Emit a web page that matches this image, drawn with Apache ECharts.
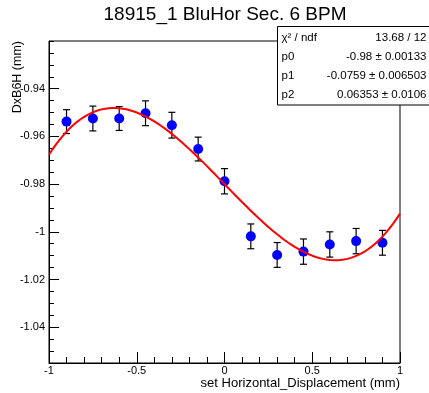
<!DOCTYPE html>
<html>
<head>
<meta charset="utf-8">
<script src="https://cdn.jsdelivr.net/npm/echarts@6/dist/echarts.min.js"></script>
<style>
  html, body { margin: 0; padding: 0; background: #fff; }
  #c { width: 429px; height: 393px; }
</style>
</head>
<body>
<div id="c"></div>
<script>
// Measured beam position vs. set horizontal displacement
const xValues = [-0.9, -0.75, -0.6, -0.45, -0.3, -0.15, 0, 0.15, 0.3, 0.45, 0.6, 0.75, 0.9];
const yValues = [-0.9538, -0.9525, -0.9525, -0.9503, -0.9553, -0.9653, -0.9788,
                 -1.0019, -1.0097, -1.0083, -1.0053, -1.0039, -1.0046];
const yErrors = [0.0050, 0.0052, 0.0050, 0.0052, 0.0054, 0.0050, 0.0053,
                 0.0052, 0.0052, 0.0053, 0.0053, 0.0053, 0.0052];

// Fit result: f(x) = p0 + p1*x + p2*x^3
const fitNames = ['p0', 'p1', 'p2'];
const fitParams = [-0.98, -0.0759, 0.06353];
const fitErrors = ['0.00133', '0.006503', '0.0106'];
const chi2Label = 'χ² / ndf';
const chi2Value = '13.68 / 12';

// Axis ranges
const xRange = [-1, 1];
const yRange = [-1.055, -0.92];

const titleText = '18915_1 BluHor Sec. 6 BPM';
const xTitle = 'set Horizontal_Displacement (mm)';
const yTitle = 'DxB6H (mm)';

const FONT = '"Liberation Sans", Arial, Helvetica, sans-serif';

function fitFunc(x) {
  return fitParams[0] + fitParams[1] * x + fitParams[2] * x * x * x;
}
const fitCurve = [];
for (let i = 0; i <= 100; i++) {
  const x = xRange[0] + i * (xRange[1] - xRange[0]) / 100;
  fitCurve.push([x, fitFunc(x)]);
}

const points = xValues.map((x, i) => [x, yValues[i], yErrors[i]]);

const statLabels = [chi2Label].concat(fitNames);
const statValues = [chi2Value].concat(fitParams.map((p, i) => p + ' ± ' + fitErrors[i]));

const box = { x: 277.5, y: 26.5, w: 153, h: 78.5 };
const rowH = 19;
const statGraphics = [{
  type: 'rect', z: 100,
  shape: { x: box.x, y: box.y, width: box.w, height: box.h },
  style: { fill: '#fff', stroke: '#000', lineWidth: 1 }
}];
statLabels.forEach((t, i) => {
  const cy = box.y + 11.5 + i * rowH;
  statGraphics.push({
    type: 'text', z: 101, x: box.x + 4, y: cy,
    style: { text: t, fill: '#000', font: '11.5px ' + FONT, textAlign: 'left', textVerticalAlign: 'middle' }
  });
  statGraphics.push({
    type: 'text', z: 101, x: 426.5, y: cy,
    style: { text: statValues[i], fill: '#000', font: '11.5px ' + FONT, textAlign: 'right', textVerticalAlign: 'middle' }
  });
});

const chart = echarts.init(document.getElementById('c'), null, { renderer: 'canvas' });

chart.setOption({
  animation: false,
  backgroundColor: '#fff',
  grid: {
    left: 49, right: 29, top: 41, bottom: 30,
    show: true, borderColor: '#000', borderWidth: 1, backgroundColor: 'transparent'
  },
  xAxis: {
    type: 'value', min: xRange[0], max: xRange[1], interval: 0.5,
    axisLine: { show: true, onZero: false, lineStyle: { color: '#000', width: 1 } },
    axisTick: { show: true, inside: true, length: 11, lineStyle: { color: '#000', width: 1 } },
    minorTick: { show: true, splitNumber: 5, length: 6, lineStyle: { color: '#000', width: 1 } },
    splitLine: { show: false },
    axisLabel: { color: '#000', fontSize: 11, fontFamily: FONT, margin: 2 }
  },
  yAxis: [{
    type: 'value', position: 'left', min: yRange[0], max: yRange[1],
    splitNumber: 7, minInterval: 0.02, maxInterval: 0.02,
    axisLine: { show: true, onZero: false, lineStyle: { color: '#000', width: 1 } },
    axisTick: { show: true, inside: true, length: 10, lineStyle: { color: '#000', width: 1 } },
    splitLine: { show: false },
    axisLabel: { color: '#000', fontSize: 11, fontFamily: FONT, margin: 4,
                 showMinLabel: false, showMaxLabel: false }
  }, {
    type: 'value', position: 'left', offset: 0, min: yRange[0], max: yRange[1], interval: 0.005,
    axisLine: { show: false, onZero: false },
    axisTick: { show: true, inside: true, length: 5, lineStyle: { color: '#000', width: 1 } },
    splitLine: { show: false },
    axisLabel: { show: false }
  }],
  series: [{
    type: 'custom',
    name: 'errors',
    xAxisIndex: 0, yAxisIndex: 0,
    data: points,
    encode: { x: 0, y: 1 },
    z: 2,
    renderItem: function (params, api) {
      const x = api.value(0), y = api.value(1), e = api.value(2);
      const top = api.coord([x, y + e]);
      const bot = api.coord([x, y - e]);
      const cap = 3.5;
      const st = { stroke: '#000', lineWidth: 1.2 };
      return {
        type: 'group',
        children: [
          { type: 'line', shape: { x1: top[0], y1: top[1], x2: bot[0], y2: bot[1] }, style: st },
          { type: 'line', shape: { x1: top[0] - cap, y1: top[1], x2: top[0] + cap, y2: top[1] }, style: st },
          { type: 'line', shape: { x1: bot[0] - cap, y1: bot[1], x2: bot[0] + cap, y2: bot[1] }, style: st }
        ]
      };
    }
  }, {
    type: 'scatter',
    name: 'data',
    xAxisIndex: 0, yAxisIndex: 0,
    data: points.map(p => [p[0], p[1]]),
    symbol: 'circle', symbolSize: 10,
    itemStyle: { color: '#0000ff', opacity: 1 },
    z: 3
  }, {
    type: 'line',
    name: 'fit',
    xAxisIndex: 0, yAxisIndex: 0,
    data: fitCurve,
    showSymbol: false, smooth: false, clip: true,
    lineStyle: { color: '#ff0000', width: 2 },
    z: 4
  }],
  graphic: [{
    type: 'text', x: 225, y: 15,
    style: { text: titleText, fill: '#000', font: '19px ' + FONT, textAlign: 'center', textVerticalAlign: 'middle' }
  }, {
    type: 'text', x: 400, y: 383,
    style: { text: xTitle, fill: '#000', font: '13px ' + FONT, textAlign: 'right', textVerticalAlign: 'middle' }
  }, {
    type: 'text', x: 18, y: 41, rotation: Math.PI / 2,
    style: { text: yTitle, fill: '#000', font: '12.5px ' + FONT, textAlign: 'right', textVerticalAlign: 'middle' }
  }].concat(statGraphics)
});
</script>
</body>
</html>
